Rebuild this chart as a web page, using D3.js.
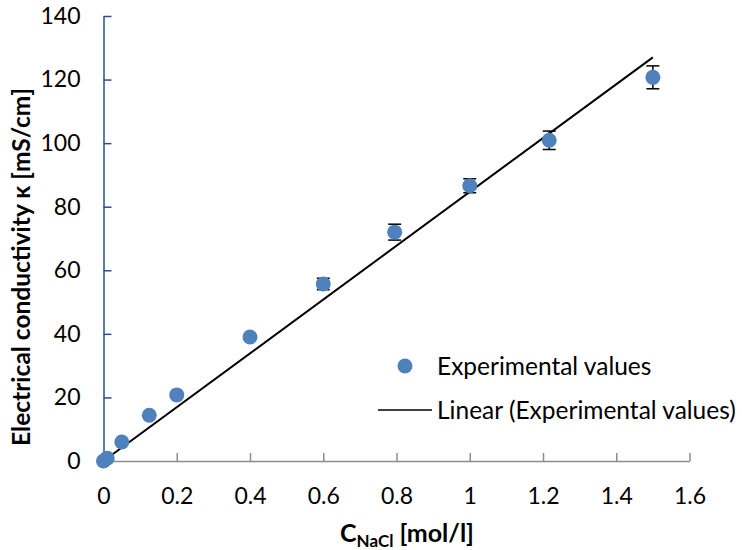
<!DOCTYPE html>
<html lang="en">
  <head>
    <meta charset="utf-8"/>
    <script src="https://d3js.org/d3.v7.min.js"></script>
    <title>Electrical conductivity</title>
    <style>
      body { margin: 0; background: #fff; }
      text { font-family: Lato, "Open Sans", sans-serif; fill: #000; }
    </style>
  </head>
  <body>
    <svg id="svg_main"></svg>

    <script>
      const graph_width = 742;
      const graph_height = 550;

      // concentration of NaCl [mol/l]
      let concentrations = [0, 0.01, 0.05, 0.125, 0.2, 0.4, 0.6, 0.795, 1.0, 1.217, 1.50];
      // conductivity [mS/cm]
      let conductivity = [0, 0.9, 6.0, 14.4, 20.8, 39.0, 55.7, 72.0, 86.6, 100.9, 120.7];
      // error (+/-)
      let errors = [0, 0, 0, 0, 0, 0, 1.8, 2.5, 2.2, 2.9, 3.6];

      let xTicks = [0, 0.2, 0.4, 0.6, 0.8, 1, 1.2, 1.4, 1.6];
      let yTicks = [0, 20, 40, 60, 80, 100, 120, 140];

      let dataset = concentrations.map(function(c, i) {
        return {c: c, k: conductivity[i], err: errors[i]};
      });

      // linear trendline, intercept fixed to 0
      let sxy = d3.sum(dataset, d => d.c * d.k);
      let sxx = d3.sum(dataset, d => d.c * d.c);
      let slope = sxy / sxx;
      let xMax = d3.max(concentrations);
      let trend = [{c: 0, k: 0}, {c: xMax, k: slope * xMax}];

      let xScale = d3.scaleLinear().domain([0, 1.6]).range([103.5, 689.5]);
      let yScale = d3.scaleLinear().domain([0, 140]).range([461, 16]);

      let svg = d3.select("#svg_main")
          .attr("width", graph_width)
          .attr("height", graph_height);

      svg.append("rect")
          .attr("width", graph_width)
          .attr("height", graph_height)
          .attr("fill", "#fff");

      // X axis
      let xAxis_g = svg.append("g")
          .attr("transform", "translate(0," + yScale(0) + ")")
          .call(d3.axisBottom(xScale).tickValues(xTicks).tickFormat(d3.format("~g"))
                .tickSizeInner(-8).tickSizeOuter(0).tickPadding(27));
      xAxis_g.selectAll("path, line").attr("stroke", "#8c8c8c").attr("stroke-width", 1.5);
      xAxis_g.selectAll("text").style("font-size", "23px");

      // Y axis
      let yAxis_g = svg.append("g")
          .attr("transform", "translate(" + xScale(0) + ",0)")
          .call(d3.axisLeft(yScale).tickValues(yTicks)
                .tickSizeInner(-8).tickSizeOuter(0).tickPadding(23));
      yAxis_g.selectAll("path, line").attr("stroke", "#2a4f8c").attr("stroke-width", 1.5);
      yAxis_g.selectAll("text").style("font-size", "23px");

      // trendline
      let line = d3.line()
          .x(d => xScale(d.c))
          .y(d => yScale(d.k));
      svg.append("path")
          .datum(trend)
          .attr("fill", "none")
          .attr("stroke", "#000")
          .attr("stroke-width", 2)
          .attr("d", line);

      // error bars
      let bars = svg.append("g").selectAll("g")
          .data(dataset.filter(d => d.err > 0))
          .join("g")
          .attr("stroke", "#000")
          .attr("stroke-width", 1.5);
      bars.append("line")
          .attr("x1", d => xScale(d.c)).attr("x2", d => xScale(d.c))
          .attr("y1", d => yScale(d.k + d.err)).attr("y2", d => yScale(d.k - d.err));
      bars.append("line")
          .attr("x1", d => xScale(d.c) - 6.5).attr("x2", d => xScale(d.c) + 6.5)
          .attr("y1", d => yScale(d.k + d.err)).attr("y2", d => yScale(d.k + d.err));
      bars.append("line")
          .attr("x1", d => xScale(d.c) - 6.5).attr("x2", d => xScale(d.c) + 6.5)
          .attr("y1", d => yScale(d.k - d.err)).attr("y2", d => yScale(d.k - d.err));

      // points
      svg.append("g").selectAll("circle")
          .data(dataset)
          .join("circle")
          .attr("cx", d => xScale(d.c))
          .attr("cy", d => yScale(d.k))
          .attr("r", 7.5)
          .attr("fill", "#4f81bd");

      // legend
      let legend = svg.append("g").style("font-size", "24.5px");
      legend.append("circle")
          .attr("cx", 405).attr("cy", 366).attr("r", 7.5)
          .attr("fill", "#4f81bd");
      legend.append("text")
          .attr("x", 437).attr("y", 375)
          .text("Experimental values");
      legend.append("line")
          .attr("x1", 378).attr("x2", 432)
          .attr("y1", 410).attr("y2", 410)
          .attr("stroke", "#000").attr("stroke-width", 1.5);
      legend.append("text")
          .attr("x", 437).attr("y", 419)
          .text("Linear (Experimental values)");

      // axis titles
      let xTitle = svg.append("text")
          .attr("x", 407).attr("y", 542)
          .attr("text-anchor", "middle")
          .style("font-size", "25px")
          .style("font-weight", "bold");
      xTitle.append("tspan").text("C");
      xTitle.append("tspan").attr("dy", 5).style("font-size", "17px").text("NaCl");
      xTitle.append("tspan").attr("dy", -5).text(" [mol/l]");

      svg.append("text")
          .attr("transform", "translate(30,267) rotate(-90)")
          .attr("text-anchor", "middle")
          .style("font-size", "24.5px")
          .style("font-weight", "bold")
          .text("Electrical conductivity κ [mS/cm]");
    </script>
  </body>
</html>
